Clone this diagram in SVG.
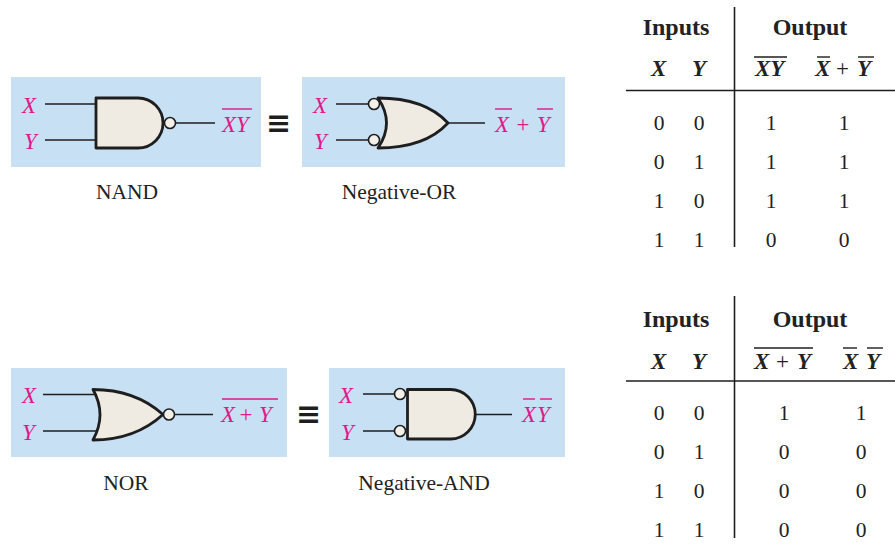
<svg xmlns="http://www.w3.org/2000/svg" width="895" height="548" viewBox="0 0 895 548">
<style>
.box{fill:#c8e0f3}
.gate{fill:#efebe3;stroke:#1e1e1e;stroke-width:2.8;stroke-linejoin:round}
.bub{fill:#f3f0ea;stroke:#1e1e1e;stroke-width:1.6}
.wire{stroke:#1e1e1e;stroke-width:1.5;fill:none}
.ov{stroke:#e0188a;stroke-width:1.4}
.ovk{stroke:#1e1e1e;stroke-width:1.4}
.tl{stroke:#1e1e1e;stroke-width:1.6}
.m{font-family:"Liberation Serif",serif;font-style:italic;font-size:23px;fill:#e0188a}
.lab{font-family:"Liberation Serif",serif;font-size:21.5px;fill:#222;text-anchor:middle}
.hd{font-family:"Liberation Serif",serif;font-weight:bold;font-size:24px;fill:#222;text-anchor:middle}
.hv{font-family:"Liberation Serif",serif;font-weight:bold;font-style:italic;font-size:23px;fill:#222}
.d{font-family:"Liberation Serif",serif;font-size:21.5px;fill:#222;text-anchor:middle}
.eq{font-family:"DejaVu Sans",sans-serif;font-weight:bold;font-size:30px;fill:#1e1e1e}
</style>

<g id="nand">
<rect class="box" x="11" y="77" width="250" height="90"/>
<path class="gate" d="M96,98 H138 A25,25 0 0 1 138,148 H96 Z"/>
<circle class="bub" cx="170" cy="123" r="5.5"/>
<text class="m" x="22" y="113">X</text>
<text class="m" x="24" y="149">Y</text>
<text class="m" x="222" y="132">XY</text>
<line class="ov" x1="222" y1="109" x2="252" y2="109"/>
<text class="lab" x="127" y="199">NAND</text>
</g>

<g id="equiv1"><text class="eq" x="266" y="133">≡</text></g>

<g id="negor">
<rect class="box" x="302" y="77" width="263" height="90"/>
<path class="gate" d="M378,98 Q425,98 448,123 Q425,148 378,148 Q395,123 378,98 Z"/>
<circle class="bub" cx="374" cy="104" r="5.5"/>
<circle class="bub" cx="374" cy="140" r="5.5"/>
<text class="m" x="313" y="113">X</text>
<text class="m" x="314" y="149">Y</text>
<text class="m" y="132"><tspan x="495">X</tspan><tspan x="515">+</tspan><tspan x="537">Y</tspan></text>
<line class="ov" x1="495" y1="109" x2="512" y2="109"/>
<line class="ov" x1="537" y1="109" x2="553" y2="109"/>
<text class="lab" x="399" y="199">Negative-OR</text>
</g>

<g id="nor">
<rect class="box" x="11" y="368" width="276" height="89"/>
<path class="gate" d="M93,389.5 Q135,389.5 163,414.5 Q135,440 93,440 Q107,414.5 93,389.5 Z"/>
<circle class="bub" cx="169" cy="414.5" r="5.5"/>
<text class="m" x="22" y="403">X</text>
<text class="m" x="22" y="440">Y</text>
<text class="m" y="422"><tspan x="221">X</tspan><tspan x="238">+</tspan><tspan x="259">Y</tspan></text>
<line class="ov" x1="222" y1="399" x2="278" y2="399"/>
<text class="lab" x="126" y="490">NOR</text>
</g>

<g id="equiv2"><text class="eq" x="296" y="424">≡</text></g>

<g id="negand">
<rect class="box" x="329" y="368" width="236" height="89"/>
<path class="gate" d="M407.5,389.5 H450.5 A24.75,24.75 0 0 1 450.5,439 H407.5 Z"/>
<circle class="bub" cx="400" cy="394" r="5.5"/>
<circle class="bub" cx="400" cy="431" r="5.5"/>
<text class="m" x="339" y="403">X</text>
<text class="m" x="341" y="440">Y</text>
<text class="m" y="422"><tspan x="522">X</tspan><tspan x="537">Y</tspan></text>
<line class="ov" x1="523" y1="399" x2="535" y2="399"/>
<line class="ov" x1="540" y1="399" x2="552" y2="399"/>
<text class="lab" x="424" y="490">Negative-AND</text>
</g>

<g id="connectors">
<line class="wire" x1="45" y1="104" x2="96" y2="104"/>
<line class="wire" x1="45" y1="140" x2="96" y2="140"/>
<line class="wire" x1="175.5" y1="123" x2="215" y2="123"/>
<line class="wire" x1="336" y1="104" x2="368.5" y2="104"/>
<line class="wire" x1="336" y1="140" x2="368.5" y2="140"/>
<line class="wire" x1="448" y1="123" x2="485" y2="123"/>
<line class="wire" x1="43" y1="394.5" x2="97" y2="394.5"/>
<line class="wire" x1="43" y1="431" x2="97" y2="431"/>
<line class="wire" x1="174.5" y1="414.5" x2="213" y2="414.5"/>
<line class="wire" x1="363" y1="394" x2="394.5" y2="394"/>
<line class="wire" x1="363" y1="431" x2="394.5" y2="431"/>
<line class="wire" x1="475" y1="414.5" x2="512" y2="414.5"/>
</g>

<g id="table1">
<line class="tl" x1="734.5" y1="7" x2="734.5" y2="247"/>
<line class="tl" x1="626" y1="90.5" x2="895" y2="90.5"/>
<text class="hd" x="676" y="35">Inputs</text>
<text class="hd" x="810" y="35">Output</text>
<text class="hv" x="651" y="76">X</text>
<text class="hv" x="692" y="76">Y</text>
<text class="hv" x="755" y="76">XY</text>
<line class="ovk" x1="754" y1="57" x2="787" y2="57"/>
<text class="hv" y="76"><tspan x="815">X</tspan><tspan x="836" font-weight="normal" font-style="normal">+</tspan><tspan x="857">Y</tspan></text>
<line class="ovk" x1="817" y1="57" x2="830" y2="57"/>
<line class="ovk" x1="858" y1="57" x2="874" y2="57"/>
<text class="d" x="659" y="130">0</text><text class="d" x="699" y="130">0</text><text class="d" x="771" y="130">1</text><text class="d" x="844" y="130">1</text>
<text class="d" x="659" y="169">0</text><text class="d" x="699" y="169">1</text><text class="d" x="771" y="169">1</text><text class="d" x="844" y="169">1</text>
<text class="d" x="659" y="208">1</text><text class="d" x="699" y="208">0</text><text class="d" x="771" y="208">1</text><text class="d" x="844" y="208">1</text>
<text class="d" x="659" y="247">1</text><text class="d" x="699" y="247">1</text><text class="d" x="771" y="247">0</text><text class="d" x="844" y="247">0</text>
</g>

<g id="table2">
<line class="tl" x1="734.5" y1="296" x2="734.5" y2="538"/>
<line class="tl" x1="626" y1="381" x2="895" y2="381"/>
<text class="hd" x="676" y="327">Inputs</text>
<text class="hd" x="810" y="327">Output</text>
<text class="hv" x="651" y="369">X</text>
<text class="hv" x="692" y="369">Y</text>
<text class="hv" y="369"><tspan x="754">X</tspan><tspan x="776" font-weight="normal" font-style="normal">+</tspan><tspan x="797">Y</tspan></text>
<line class="ovk" x1="754" y1="348" x2="813" y2="348"/>
<text class="hv" y="369"><tspan x="843">X</tspan><tspan x="866">Y</tspan></text>
<line class="ovk" x1="843" y1="348" x2="857" y2="348"/>
<line class="ovk" x1="867" y1="348" x2="883" y2="348"/>
<text class="d" x="659" y="420">0</text><text class="d" x="699" y="420">0</text><text class="d" x="784" y="420">1</text><text class="d" x="861" y="420">1</text>
<text class="d" x="659" y="459">0</text><text class="d" x="699" y="459">1</text><text class="d" x="784" y="459">0</text><text class="d" x="861" y="459">0</text>
<text class="d" x="659" y="498">1</text><text class="d" x="699" y="498">0</text><text class="d" x="784" y="498">0</text><text class="d" x="861" y="498">0</text>
<text class="d" x="659" y="537">1</text><text class="d" x="699" y="537">1</text><text class="d" x="784" y="537">0</text><text class="d" x="861" y="537">0</text>
</g>
</svg>
